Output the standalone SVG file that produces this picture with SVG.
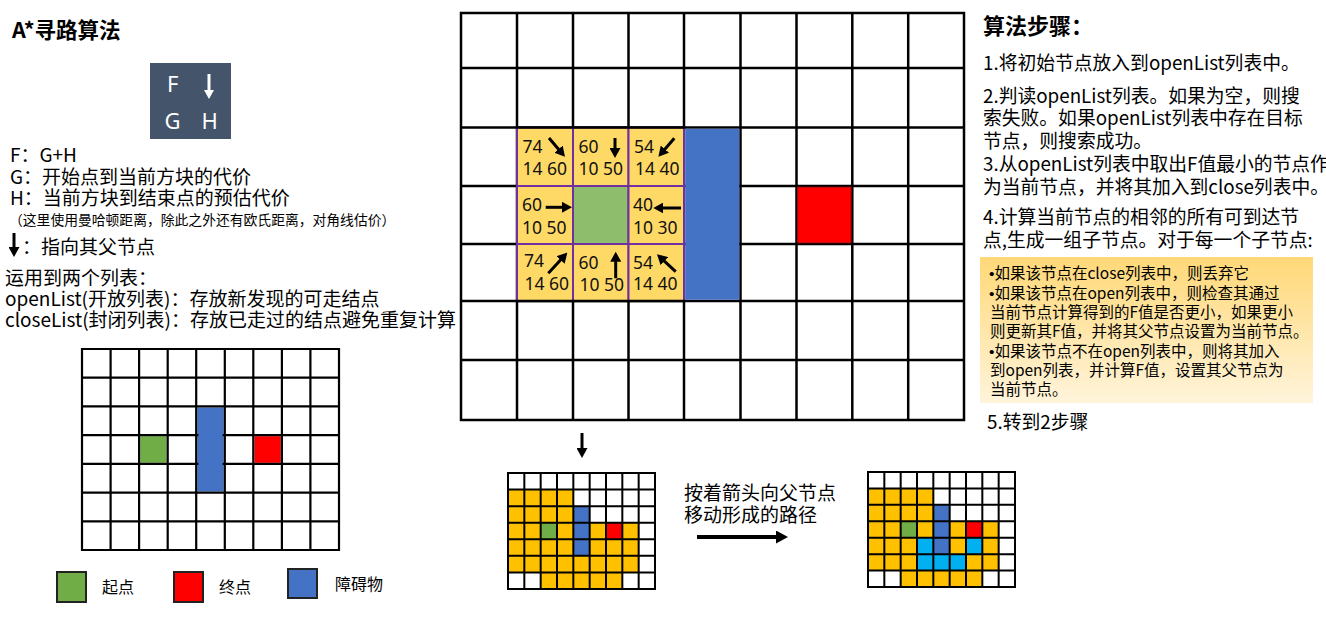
<svg xmlns="http://www.w3.org/2000/svg" width="1326" height="626" viewBox="0 0 1326 626">
<defs>
<style>
.cjk{font-family:"Noto Sans CJK SC","Noto Sans",sans-serif;fill:#000}
.b{font-weight:bold}
.t19{font-size:19px}
.t185{font-size:18.8px}
.t155{font-size:15.5px}
.t16{font-size:16px}
.bul{font-family:"Liberation Sans",sans-serif}
.num{font-family:"Noto Sans","Noto Sans CJK SC",sans-serif;font-size:17.5px;fill:#111}
.fgh{font-family:"Noto Sans",sans-serif;font-size:22px;fill:#fff}
.gl{fill:none;stroke:#000;stroke-linecap:square}
.ycell{fill:#FFD966;stroke:#7030A0;stroke-width:2}
.arr{stroke:#000;stroke-width:3;fill:none;marker-end:url(#ah)}
.Y{fill:#FFC000}.G{fill:#70AD47}.B{fill:#4472C4}.R{fill:#FF0000}.C{fill:#00B0F0}
.leg{stroke:#222;stroke-width:2}
</style>
<marker id="ah" markerUnits="userSpaceOnUse" markerWidth="10" markerHeight="11" viewBox="0 0 10 11" refX="4" refY="5.5" orient="auto"><path d="M0,0 L10,5.5 L0,11 z" fill="#000"/></marker>
<marker id="ahw" markerUnits="userSpaceOnUse" markerWidth="9" markerHeight="10" viewBox="0 0 9 10" refX="4" refY="5" orient="auto"><path d="M0,0 L9,5 L0,10 z" fill="#fff"/></marker>
<marker id="ahL" markerUnits="userSpaceOnUse" markerWidth="12" markerHeight="13" viewBox="0 0 12 13" refX="5" refY="6.5" orient="auto"><path d="M0,0 L12,6.5 L0,13 z" fill="#000"/></marker>
<linearGradient id="boxg" x1="0" y1="0" x2="0" y2="1"><stop offset="0" stop-color="#FFD877"/><stop offset="1" stop-color="#FFF4DB"/></linearGradient>
</defs>
<rect width="1326" height="626" fill="#fff"/>

<g id="title"><text class="cjk b" x="12" y="37.5" font-size="21.5">A*寻路算法</text></g>

<g id="fgh-key">
<rect x="150" y="63" width="81" height="76" fill="#44546A"/>
<text class="fgh" x="167" y="91.5">F</text>
<text class="fgh" x="164.5" y="129">G</text>
<text class="fgh" x="201.5" y="129">H</text>
</g>

<g id="definitions">
<text class="cjk t19" x="10" y="162">F：G+H</text>
<text class="cjk t19" x="10" y="184">G：开始点到当前方块的代价</text>
<text class="cjk t19" x="10" y="205">H：当前方块到结束点的预估代价</text>
<text class="cjk" x="9" y="224.5" font-size="13.8">（这里使用曼哈顿距离，除此之外还有欧氏距离，对角线估价）</text>
<text class="cjk t19" x="22" y="254">：指向其父节点</text>
<text class="cjk t19" x="5" y="285">运用到两个列表：</text>
<text class="cjk t19" x="5" y="306">openList(开放列表)：存放新发现的可走结点</text>
<text class="cjk t19" x="5" y="327">closeList(封闭列表)：存放已走过的结点避免重复计算</text>
</g>

<g id="small-grid">
<rect x="140.2" y="436.2" width="26.4" height="26.6" class="G"/>
<rect x="197.3" y="407.5" width="26.4" height="84" class="B"/>
<rect x="254.4" y="436.2" width="26.4" height="26.6" class="R"/>
<path class="gl" stroke-width="2.2" d="M82,349V550M110.6,349V550M139.1,349V550M167.7,349V550M196.2,349V550M224.8,349V550M253.3,349V550M281.9,349V550M310.4,349V550M339,349V550M82,349H339M82,377.7H339M82,406.4H339M82,435.1H197.3M223.7,435.1H339M82,463.9H197.3M223.7,463.9H339M82,492.6H339M82,521.3H339M82,550H339"/>
</g>

<g id="legend">
<g id="legend-start"><rect x="57" y="572" width="29" height="30" class="G leg"/><text class="cjk t16" x="102" y="593">起点</text></g>
<g id="legend-end"><rect x="174" y="572" width="29" height="30" class="R leg"/><text class="cjk t16" x="219" y="593">终点</text></g>
<g id="legend-obstacle"><rect x="288" y="569" width="29" height="29" class="B leg"/><text class="cjk t16" x="335" y="590">障碍物</text></g>
</g>

<g id="main-grid">
<path class="gl" stroke-width="2.5" d="M461,13V420M517,13V420M573,13V420M628.5,13V420M684,13V420M740.5,13V420M796.5,13V420M852.3,13V420M908.2,13V420M964,13V420M461,13H964M461,68H964M461,127.5H964M461,186H964M461,244H964M461,301H964M461,360H964M461,420H964"/>
<rect x="685.25" y="128.75" width="54" height="171" fill="#4472C4"/>
<rect x="797.75" y="187.25" width="53.3" height="55.5" fill="#FF0000" stroke="#B00000" stroke-width="1"/>
<g id="cell-r2c1"><rect class="ycell" x="517" y="127.5" width="56" height="58.5"/><text class="num" x="522.5" y="152.5">74</text><text class="num" x="522.5" y="175">14 60</text></g>
<g id="cell-r2c2"><rect class="ycell" x="573" y="127.5" width="55.5" height="58.5"/><text class="num" x="578.5" y="152.5">60</text><text class="num" x="578.5" y="175">10 50</text></g>
<g id="cell-r2c3"><rect class="ycell" x="628.5" y="127.5" width="55.5" height="58.5"/><text class="num" x="634" y="152.5">54</text><text class="num" x="635" y="175">14 40</text></g>
<g id="cell-r3c1"><rect class="ycell" x="517" y="186" width="56" height="58"/><text class="num" x="522" y="211">60</text><text class="num" x="522" y="233.5">10 50</text></g>
<g id="cell-start"><rect x="573" y="186" width="55.5" height="58" fill="#8EBD6B" stroke="#7030A0" stroke-width="2"/></g>
<g id="cell-r3c3"><rect class="ycell" x="628.5" y="186" width="55.5" height="58"/><text class="num" x="633" y="210.5">40</text><text class="num" x="633" y="233.5">10 30</text></g>
<g id="cell-r4c1"><rect class="ycell" x="517" y="244" width="56" height="57"/><text class="num" x="524" y="267">74</text><text class="num" x="524.5" y="289.5">14 60</text></g>
<g id="cell-r4c2"><rect class="ycell" x="573" y="244" width="55.5" height="57"/><text class="num" x="578.5" y="268.5">60</text><text class="num" x="579.5" y="290.5">10 50</text></g>
<g id="cell-r4c3"><rect class="ycell" x="628.5" y="244" width="55.5" height="57"/><text class="num" x="633" y="268.5">54</text><text class="num" x="633" y="289.5">14 40</text></g>
<path class="gl" stroke-width="2.5" d="M517,127.5H684M517,301H684"/>
</g>

<g id="steps">
<text class="cjk b" x="983" y="33.5" font-size="22">算法步骤：</text>
<text class="cjk t185" x="983" y="70">1.将初始节点放入到openList列表中。</text>
<text class="cjk t185" x="983" y="103">2.判读openList列表。如果为空，则搜</text>
<text class="cjk t185" x="983" y="125">索失败。如果openList列表中存在目标</text>
<text class="cjk t185" x="983" y="148">节点，则搜索成功。</text>
<text class="cjk t185" x="983" y="171">3.从openList列表中取出F值最小的节点作</text>
<text class="cjk t185" x="983" y="194">为当前节点，并将其加入到close列表中。</text>
<text class="cjk t185" x="983" y="224">4.计算当前节点的相邻的所有可到达节</text>
<text class="cjk t185" x="983" y="247">点,生成一组子节点。对于每一个子节点:</text>
<g id="child-rules">
<rect x="980" y="257" width="333" height="146" fill="url(#boxg)"/>
<text class="cjk t155" x="989" y="279"><tspan class="bul">•</tspan>如果该节点在close列表中，则丢弃它</text>
<text class="cjk t155" x="989" y="298.5"><tspan class="bul">•</tspan>如果该节点在open列表中，则检查其通过</text>
<text class="cjk t155" x="990" y="318">当前节点计算得到的F值是否更小，如果更小</text>
<text class="cjk t155" x="990" y="337">则更新其F值，并将其父节点设置为当前节点。</text>
<text class="cjk t155" x="989" y="356.5"><tspan class="bul">•</tspan>如果该节点不在open列表中，则将其加入</text>
<text class="cjk t155" x="990" y="376">到open列表，并计算F值，设置其父节点为</text>
<text class="cjk t155" x="990" y="395">当前节点。</text>
</g>
<text class="cjk t185" x="987" y="429">5.转到2步骤</text>
</g>

<g id="result-grid-1" transform="translate(508,473)">
<rect class="Y" x="0" y="16.57" width="65.33" height="82.86"/>
<rect class="Y" x="81.67" y="49.71" width="49" height="49.71"/>
<rect class="Y" x="65.33" y="82.86" width="16.33" height="16.57"/>
<rect class="Y" x="32.67" y="99.43" width="81.67" height="16.57"/>
<rect class="G" x="32.67" y="49.71" width="16.33" height="16.57"/>
<rect class="B" x="65.33" y="33.14" width="16.33" height="49.71"/>
<rect class="R" x="98" y="49.71" width="16.33" height="16.57"/>
<path class="gl" stroke-width="2" d="M0,0V116M16.33,0V116M32.67,0V116M49,0V116M65.33,0V116M81.67,0V116M98,0V116M114.33,0V116M130.67,0V116M147,0V116M0,0H147M0,16.57H147M0,33.14H147M0,49.71H147M0,66.29H147M0,82.86H147M0,99.43H147M0,116H147"/>
</g>

<g id="path-caption">
<text class="cjk t19" x="684" y="500">按着箭头向父节点</text>
<text class="cjk t19" x="684" y="522">移动形成的路径</text>
</g>

<g id="result-grid-2" transform="translate(868,472)">
<rect class="Y" x="0" y="16.43" width="65.33" height="82.14"/>
<rect class="Y" x="81.67" y="49.29" width="49" height="49.29"/>
<rect class="Y" x="65.33" y="82.14" width="16.33" height="16.43"/>
<rect class="Y" x="32.67" y="98.57" width="81.67" height="16.43"/>
<rect class="G" x="32.67" y="49.29" width="16.33" height="16.43"/>
<rect class="B" x="65.33" y="32.86" width="16.33" height="49.29"/>
<rect class="R" x="98" y="49.29" width="16.33" height="16.43"/>
<rect class="C" x="49" y="65.71" width="16.33" height="32.86"/>
<rect class="C" x="65.33" y="82.14" width="32.67" height="16.43"/>
<rect class="C" x="98" y="65.71" width="16.33" height="16.43"/>
<path class="gl" stroke-width="2" d="M0,0V115M16.33,0V115M32.67,0V115M49,0V115M65.33,0V115M81.67,0V115M98,0V115M114.33,0V115M130.67,0V115M147,0V115M0,0H147M0,16.43H147M0,32.86H147M0,49.29H147M0,65.71H147M0,82.14H147M0,98.57H147M0,115H147"/>
</g>

<g id="connectors">
<path class="arr" d="M549,138L561.1,152.2"/>
<path class="arr" d="M615,138L615,152"/>
<path class="arr" d="M674.3,138.3L662.3,152.2"/>
<path class="arr" d="M545.7,207.3L566,207.3"/>
<path class="arr" d="M681,208L659.3,208"/>
<path class="arr" d="M548.3,273.3L563.3,257"/>
<path class="arr" d="M615.7,278.3L615.7,257.7"/>
<path class="arr" d="M675.7,271.7L661.4,258.4"/>
<path d="M209,74L209,94" stroke="#fff" stroke-width="3" marker-end="url(#ahw)"/>
<path class="arr" d="M14,233L14,251"/>
<path class="arr" d="M582,433L582,452"/>
<path d="M697,537L781,537" stroke="#000" stroke-width="4" marker-end="url(#ahL)"/>
</g>
</svg>
